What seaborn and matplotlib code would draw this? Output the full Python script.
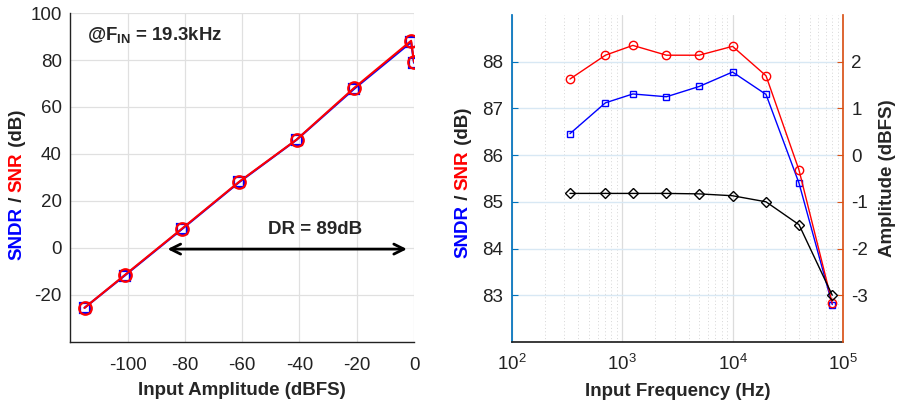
import matplotlib
matplotlib.use("Agg")
import matplotlib.pyplot as plt
import seaborn as sns
import numpy as np
import pandas as pd

# ---- data ----
amp_dbfs = [-115, -101, -81, -61, -41, -21, -1, 0]
amp_sndr = [-25.5, -11.8, 8.0, 28.0, 46.0, 67.6, 87.6, 78.8]
amp_snr = [-25.5, -11.6, 8.2, 28.2, 46.1, 68.0, 88.2, 79.2]

freq_hz = [337, 705, 1250, 2520, 4980, 10000, 20100, 40000, 80000]
freq_sndr = [86.46, 87.12, 87.31, 87.25, 87.47, 87.78, 87.30, 85.40, 82.80]
freq_snr = [87.63, 88.14, 88.35, 88.14, 88.14, 88.33, 87.70, 85.68, 82.83]
freq_amp = [-0.82, -0.82, -0.82, -0.82, -0.83, -0.87, -1.00, -1.49, -3.00]

left_yticks = [-20, 0, 20, 40, 60, 80, 100]
left_xticks = [-100, -80, -60, -40, -20, 0]
right_yticks = [83, 84, 85, 86, 87, 88]
right_y2ticks = [-3, -2, -1, 0, 1, 2]

sns.set_theme(style="white")
plt.rcParams['font.family'] = ['Liberation Sans', 'DejaVu Sans']
plt.rcParams['mathtext.fontset'] = 'custom'
plt.rcParams['mathtext.rm'] = 'Liberation Sans'
plt.rcParams['mathtext.bf'] = 'Liberation Sans:bold'
plt.rcParams['mathtext.it'] = 'Liberation Sans:italic'
plt.rcParams['axes.unicode_minus'] = False

ML_BLUE = '#0072BD'
ML_ORANGE = '#D95319'
TICK_FS = 13.5
LAB_FS = 13.5

fig = plt.figure(figsize=(9, 4.07), dpi=100)
axL = fig.add_axes([0.078, 0.160, 0.382, 0.808])
axR = fig.add_axes([0.5686, 0.160, 0.368, 0.803])

# ---- left plot ----
dfA = pd.DataFrame({'x': amp_dbfs, 'sndr': amp_sndr, 'snr': amp_snr})
sns.lineplot(data=dfA, x='x', y='sndr', ax=axL, color='blue', marker='s', markersize=7,
             markerfacecolor='none', markeredgecolor='blue', markeredgewidth=1.6, linewidth=1.5)
sns.lineplot(data=dfA, x='x', y='snr', ax=axL, color='red', marker='o', markersize=9,
             markerfacecolor='none', markeredgecolor='red', markeredgewidth=1.6, linewidth=1.5)
axL.set_xlim(-120, 0)
axL.set_ylim(-40, 100)
axL.set_xticks(left_xticks)
axL.set_yticks(left_yticks)
axL.grid(True, color='#e0e0e0', linewidth=0.9)
axL.set_axisbelow(True)
for s in ['top', 'right']:
    axL.spines[s].set_visible(False)
for s in ['left', 'bottom']:
    axL.spines[s].set_color('#222222')
    axL.spines[s].set_linewidth(1.0)
axL.tick_params(direction='in', length=4, width=0.8, labelsize=TICK_FS, colors='#222222', pad=6)
axL.tick_params(axis='x', pad=11)
axL.set_xlabel('Input Amplitude (dBFS)', fontsize=LAB_FS, fontweight='bold', labelpad=6)
axL.set_ylabel('')
axL.text(-114, 90.6, r'@F$_\mathbf{IN}$ = 19.3kHz', fontsize=13.4, fontweight='bold', va='center', ha='left')
axL.text(-34.5, 7.8, 'DR = 89dB', fontsize=13.5, fontweight='bold', va='center', ha='center')
axL.annotate('', xy=(-1.5, -0.5), xytext=(-87, -0.5),
             arrowprops=dict(arrowstyle='<->', color='black', lw=2, mutation_scale=18))

# ---- right plot ----
dfF = pd.DataFrame({'f': freq_hz, 'sndr': freq_sndr, 'snr': freq_snr, 'amp': freq_amp})
axR.set_xscale('log')
sns.lineplot(data=dfF, x='f', y='sndr', ax=axR, color='blue', marker='s', markersize=5,
             markerfacecolor='none', markeredgecolor='blue', markeredgewidth=1.0, linewidth=1.0)
sns.lineplot(data=dfF, x='f', y='snr', ax=axR, color='red', marker='o', markersize=6,
             markerfacecolor='none', markeredgecolor='red', markeredgewidth=1.0, linewidth=1.0)
axR.set_xlim(1e2, 1e5)
axR.set_ylim(82, 89)
axR.set_yticks(right_yticks)
axR.set_xticks([1e2, 1e3, 1e4, 1e5])
axR.xaxis.grid(True, which='major', color='#dcdcdc', linewidth=0.9)
axR.xaxis.grid(True, which='minor', color='#d6d6d6', linewidth=0.7, linestyle=(0, (1, 2.5)))
axR.yaxis.grid(True, which='major', color='#d8e8f4', linewidth=1.0)
axR.set_axisbelow(True)
axR.spines['top'].set_visible(False)
axR.spines['right'].set_visible(False)
axR.spines['left'].set_color(ML_BLUE)
axR.spines['bottom'].set_color('#222222')
axR.tick_params(axis='y', direction='in', length=4, width=0.8, labelsize=TICK_FS,
                colors=ML_BLUE, labelcolor='#222222', pad=6)
axR.tick_params(axis='x', which='major', direction='in', length=4, width=0.8, labelsize=TICK_FS,
                colors='#222222', pad=9)
axR.tick_params(axis='x', which='minor', direction='in', length=2.5, width=0.6, colors='#222222')
axR.set_xlabel('Input Frequency (Hz)', fontsize=LAB_FS, fontweight='bold', labelpad=6)
axR.set_ylabel('')

ax2 = axR.twinx()
sns.lineplot(data=dfF, x='f', y='amp', ax=ax2, color='black', marker='D', markersize=5.5,
             markerfacecolor='none', markeredgecolor='black', markeredgewidth=1.0, linewidth=1.0)
ax2.set_xscale('log')
ax2.set_xlim(1e2, 1e5)
ax2.set_ylim(-4, 3)
ax2.set_yticks(right_y2ticks)
for s in ['top', 'left', 'bottom']:
    ax2.spines[s].set_visible(False)
ax2.spines['right'].set_color(ML_ORANGE)
ax2.tick_params(axis='y', direction='in', length=4, width=0.8, labelsize=TICK_FS,
                colors=ML_ORANGE, labelcolor='#222222', pad=6)
ax2.set_ylabel('Amplitude (dBFS)', fontsize=LAB_FS, fontweight='bold', labelpad=8)
ax2.grid(False)


# ---- multicolour y labels ----
def color_ylabel(x_px, yc_px, parts):
    fig.canvas.draw()
    r = fig.canvas.get_renderer()
    W, H = fig.bbox.width, fig.bbox.height
    texts = []
    heights = []
    for s, c in parts:
        t = fig.text(0, 0, s, color=c, fontsize=LAB_FS, fontweight='bold', rotation=90,
                     rotation_mode='anchor', ha='left', va='center')
        bb = t.get_window_extent(r)
        texts.append(t)
        heights.append(bb.height)
    total = sum(heights)
    y = yc_px - total / 2
    for t, h in zip(texts, heights):
        t.set_position((x_px / W, y / H))
        y += h


parts = [('SNDR', 'blue'), (' / ', '#222222'), ('SNR', 'red'), (' (dB)', '#222222')]
color_ylabel(17, 407 - 185, parts)
color_ylabel(463, 407 - 183, parts)

fig.savefig('out.png', dpi=100)
